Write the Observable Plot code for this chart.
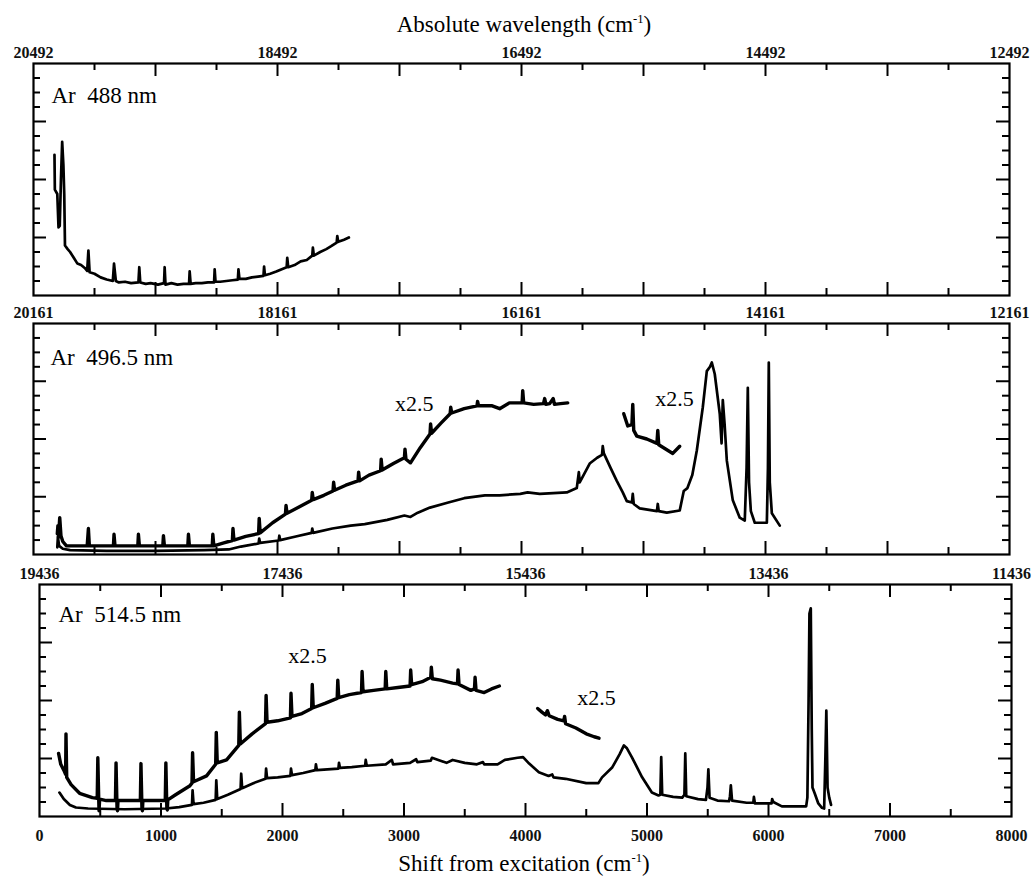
<!DOCTYPE html>
<html><head><meta charset="utf-8">
<script src="https://cdn.jsdelivr.net/npm/d3@7"></script>
<script src="https://cdn.jsdelivr.net/npm/@observablehq/plot@0.6"></script>
<style>
body{margin:0;background:#fff;}
#wrap{position:relative;width:1032px;height:878px;overflow:hidden;font-family:"Liberation Serif","Times New Roman",serif;color:#000;}
#wrap svg{position:absolute;left:0;}
.ttl{position:absolute;left:524px;transform:translateX(-50%);font-size:23px;line-height:1;white-space:nowrap;}
.ttl sup{font-size:0.55em;vertical-align:0;position:relative;top:-0.75em;}
</style></head><body>
<div id="wrap">
  <div class="ttl" style="top:13px">Absolute wavelength (cm<sup>-1</sup>)</div>
  <div class="ttl" style="top:852px">Shift from excitation (cm<sup>-1</sup>)</div>
</div>
<script>
// ---------- tick labels ----------
const topLabels488  = ["20492","18492","16492","14492","12492"];
const topLabels4965 = ["20161","18161","16161","14161","12161"];
const topLabels5145 = ["19436","17436","15436","13436","11436"];
const bottomLabels  = ["0","1000","2000","3000","4000","5000","6000","7000","8000"];
const panelNames = ["Ar\u00a0\u00a0488 nm", "Ar\u00a0\u00a0496.5 nm", "Ar\u00a0\u00a0514.5 nm"];
const scaleLabel = "x2.5";

// ---------- spectra: [shift (cm-1), intensity (arb.)] ----------
const ar488 = [[172,9.7],[175,7.3],[195,7.0],[205,4.7],[215,4.8],[225,8],[235,10.6],[245,9],[252,7],[258,3.45],[280,3.2],[300,3.0],[330,2.6],[360,2.2],[390,2.1],[420,1.9],[440,1.7],[450,3.1],[460,1.6],[500,1.5],[550,1.25],[600,1.1],[650,1.0],[660,2.2],[675,1.0],[700,0.9],[750,0.95],[800,0.85],[860,0.9],[867,1.95],[875,0.9],[920,0.8],[960,0.85],[1020,0.75],[1070,0.85],[1075,1.95],[1082,0.75],[1130,0.85],[1180,0.75],[1230,0.8],[1275,0.8],[1280,1.66],[1288,0.8],[1330,0.85],[1380,0.85],[1430,0.9],[1480,0.9],[1485,1.8],[1492,0.95],[1530,0.95],[1580,1.0],[1630,1.05],[1675,1.1],[1680,1.8],[1688,1.15],[1740,1.15],[1790,1.25],[1840,1.3],[1885,1.35],[1890,2.0],[1897,1.4],[1940,1.5],[1990,1.65],[2030,1.8],[2075,1.95],[2080,2.6],[2088,1.95],[2140,2.1],[2190,2.35],[2240,2.45],[2285,2.75],[2290,3.3],[2298,2.75],[2350,3.0],[2400,3.2],[2440,3.4],[2485,3.65],[2490,4.1],[2498,3.7],[2545,3.85],[2585,4.0]];

const ar4965 = [[195,0.5],[200,1.2],[210,0.6],[240,0.4],[300,0.3],[600,0.25],[1000,0.25],[1400,0.3],[1600,0.35],[1700,0.55],[1845,0.76],[1850,1.1],[1858,0.8],[2010,0.97],[2015,1.3],[2022,1.0],[2150,1.25],[2280,1.5],[2285,1.8],[2292,1.5],[2450,1.8],[2600,2.0],[2715,2.1],[2900,2.4],[3040,2.7],[3090,2.6],[3150,2.9],[3250,3.25],[3400,3.6],[3530,3.9],[3700,4.1],[3821,4.1],[3990,4.2],[4050,4.3],[4150,4.2],[4371,4.3],[4453,4.6],[4470,5.7],[4477,5.0],[4559,6.3],[4620,6.7],[4660,6.9],[4666,7.5],[4675,7.0],[4730,6.0],[4781,5.1],[4830,4.3],[4863,3.7],[4905,3.6],[4912,4.2],[4920,3.5],[4969,3.2],[5110,3.0],[5117,3.5],[5125,3.0],[5191,2.9],[5297,3.05],[5330,4.4],[5360,4.6],[5400,5.5],[5437,7.2],[5486,10.2],[5519,12.7],[5545,13.0],[5560,13.3],[5584,12.5],[5625,9.75],[5640,7.7],[5650,10.7],[5665,9.0],[5683,6.5],[5732,3.75],[5789,2.55],[5830,2.35],[5845,6],[5855,11.55],[5865,5],[5880,3.0],[5912,2.2],[6011,2.2],[6020,6],[6027,13.3],[6035,5],[6052,2.85],[6117,2.0]];

const ar4965x25a = [[195,1.45],[200,2.0],[205,1.2],[215,2.55],[225,1.3],[240,0.9],[270,0.6],[440,0.6],[450,1.8],[458,0.6],[655,0.6],[660,1.4],[668,0.6],[855,0.6],[860,1.4],[868,0.6],[1060,0.6],[1065,1.3],[1073,0.6],[1265,0.6],[1270,1.4],[1278,0.6],[1465,0.6],[1470,1.4],[1478,0.6],[1560,0.8],[1630,0.97],[1635,1.8],[1643,1.0],[1740,1.25],[1845,1.45],[1850,2.5],[1858,1.5],[1960,2.2],[2065,2.8],[2070,3.4],[2078,2.85],[2180,3.3],[2280,3.75],[2285,4.3],[2293,3.8],[2380,4.1],[2455,4.4],[2460,5.0],[2468,4.45],[2560,4.8],[2660,5.1],[2665,5.7],[2673,5.1],[2750,5.5],[2845,5.8],[2850,6.6],[2858,5.85],[2950,6.3],[3040,6.7],[3045,7.3],[3053,6.6],[3090,6.35],[3170,7.4],[3250,8.35],[3255,9.05],[3263,8.4],[3340,9.1],[3415,9.75],[3420,10.2],[3428,9.8],[3530,10.1],[3635,10.3],[3640,10.6],[3648,10.3],[3760,10.3],[3821,10.1],[3900,10.5],[4005,10.5],[4010,11.35],[4018,10.5],[4100,10.4],[4180,10.45],[4190,10.8],[4200,10.4],[4231,10.45],[4260,10.8],[4270,10.4],[4320,10.45],[4379,10.5]];

const ar4965x25b = [[4838,9.75],[4871,8.9],[4905,9.0],[4912,10.4],[4920,8.6],[4945,8.2],[5027,8.0],[5110,7.7],[5117,8.6],[5125,7.6],[5240,7.0],[5297,7.5]];

const ar5145 = [[164,1.65],[200,1.2],[250,0.8],[300,0.62],[400,0.55],[700,0.5],[1040,0.55],[1150,0.65],[1255,0.8],[1260,1.8],[1268,0.85],[1350,0.95],[1450,1.15],[1455,2.5],[1463,1.2],[1550,1.5],[1655,1.9],[1660,2.95],[1668,1.95],[1760,2.3],[1860,2.6],[1865,3.3],[1873,2.65],[1960,2.7],[2065,2.8],[2070,3.3],[2078,2.85],[2170,3.0],[2270,3.2],[2275,3.6],[2283,3.2],[2370,3.25],[2460,3.3],[2465,3.7],[2473,3.35],[2570,3.4],[2680,3.5],[2685,3.9],[2693,3.5],[2850,3.6],[2900,3.9],[2910,3.6],[3050,3.7],[3100,3.95],[3110,3.75],[3220,3.85],[3230,4.05],[3300,3.85],[3350,3.7],[3400,3.9],[3500,3.7],[3600,3.6],[3650,3.75],[3660,3.6],[3770,3.6],[3830,3.9],[3935,4.05],[3980,4.1],[4030,3.65],[4110,3.05],[4190,2.8],[4220,2.9],[4230,2.7],[4330,2.6],[4500,2.3],[4600,2.3],[4630,2.7],[4715,3.4],[4775,4.3],[4810,4.9],[4835,4.7],[4875,4.1],[4960,2.7],[5040,1.65],[5095,1.45],[5110,1.5],[5117,4.1],[5125,1.5],[5215,1.35],[5290,1.3],[5308,1.5],[5315,4.35],[5323,1.4],[5420,1.2],[5485,1.15],[5498,2],[5505,3.25],[5515,1.3],[5580,1.1],[5675,1.05],[5683,1.4],[5690,2.15],[5700,1.1],[5820,0.95],[5875,0.95],[5880,1.35],[5888,0.9],[5970,0.9],[6025,0.9],[6030,1.2],[6040,1.0],[6110,0.7],[6310,0.7],[6320,1.3],[6330,8],[6337,14.0],[6348,14.35],[6356,6],[6362,2.0],[6380,1.6],[6410,0.9],[6440,0.6],[6458,0.55],[6468,4],[6476,7.3],[6486,2],[6500,1.3],[6515,0.8]];

const ar5145x25a = [[157,4.35],[175,3.6],[200,3.2],[215,2.9],[218,5.7],[224,2.7],[260,2.2],[330,1.6],[435,1.3],[475,1.25],[480,4.05],[488,1.0],[490,0.4],[495,1.2],[550,1.1],[625,1.1],[630,3.7],[638,0.6],[642,0.4],[646,1.1],[830,1.1],[835,3.65],[843,0.6],[847,0.4],[851,1.1],[1035,1.1],[1040,3.7],[1048,0.6],[1052,0.45],[1056,1.15],[1120,1.5],[1235,2.1],[1255,2.3],[1260,4.4],[1268,2.4],[1375,2.8],[1450,3.6],[1455,5.8],[1463,3.7],[1540,3.9],[1640,4.9],[1645,7.2],[1653,5.0],[1750,5.7],[1860,6.4],[1865,8.35],[1873,6.5],[1960,6.6],[2065,6.8],[2070,8.5],[2078,6.9],[2160,7.1],[2240,7.45],[2245,9.1],[2253,7.5],[2350,7.8],[2450,8.15],[2455,9.4],[2463,8.2],[2550,8.4],[2650,8.55],[2655,10.0],[2663,8.6],[2750,8.7],[2845,8.8],[2850,10.0],[2858,8.8],[2950,8.9],[3050,9.0],[3055,10.1],[3063,9.1],[3150,9.3],[3220,9.6],[3225,10.3],[3233,9.5],[3300,9.4],[3400,9.2],[3440,9.15],[3445,10.1],[3453,9.1],[3550,8.7],[3580,8.8],[3585,9.6],[3593,8.7],[3660,8.55],[3720,8.8],[3785,9.0]];

const ar5145x25b = [[4100,7.45],[4135,7.2],[4165,7.0],[4180,7.3],[4195,6.95],[4265,6.7],[4315,6.6],[4322,6.9],[4330,6.4],[4415,6.1],[4500,5.7],[4565,5.5],[4605,5.4]];

// annotation anchors (data units)
const x25Pos4965 = [[3120,10.45],[5255,10.8]];
const x25Pos5145 = [[2206,11.1],[4584,8.2]];

// ---------- tick positions ----------
const xMajor = [1000,2000,3000,4000,5000,6000,7000];
const xMinor = [500,1500,2500,3500,4500,5500,6500,7500];
const xLabelTicks = [0,2000,4000,6000,8000];
const xBottomTicks = [0,1000,2000,3000,4000,5000,6000,7000,8000];
const yMajor = [4,8,12];
const yMinor = [1,2,3,5,6,7,9,10,11,13,14,15];

const FONT = "Liberation Serif, Times New Roman, serif";
const W = 1032;

function panel({top, mt, mb, ml, mr, frameH, lines, scaled, topLabels, name, nameDx, nameDy, x25, bottom}) {
  const fw = W - ml - mr;
  const marks = [];
  // inward ticks on all four sides
  marks.push(Plot.tickX(xMajor, {x: d => d, insetTop: frameH - 13, strokeWidth: 2}));
  marks.push(Plot.tickX(xMajor, {x: d => d, insetBottom: frameH - 13, strokeWidth: 2}));
  marks.push(Plot.tickX(xMinor, {x: d => d, insetTop: frameH - 7, strokeWidth: 2}));
  marks.push(Plot.tickX(xMinor, {x: d => d, insetBottom: frameH - 7, strokeWidth: 2}));
  marks.push(Plot.tickY(yMajor, {y: d => d, insetRight: fw - 13, strokeWidth: 2}));
  marks.push(Plot.tickY(yMajor, {y: d => d, insetLeft: fw - 13, strokeWidth: 2}));
  marks.push(Plot.tickY(yMinor, {y: d => d, insetRight: fw - 7, strokeWidth: 2}));
  marks.push(Plot.tickY(yMinor, {y: d => d, insetLeft: fw - 7, strokeWidth: 2}));
  marks.push(Plot.frame({stroke: "#000", strokeWidth: 2.2}));
  for (const s of lines) {
    marks.push(Plot.line(s, {x: d => d[0], y: d => d[1], stroke: "#000", strokeWidth: 2.7, strokeLinejoin: "round"}));
  }
  for (const s of (scaled || [])) {
    marks.push(Plot.line(s, {x: d => d[0], y: d => d[1], stroke: "#000", strokeWidth: 3.4, strokeLinejoin: "round"}));
  }
  // top tick labels (absolute wavenumber)
  marks.push(Plot.text(xLabelTicks, {x: d => d, frameAnchor: "top", dy: -11, lineAnchor: "middle",
    text: (d, i) => topLabels[i], fontSize: 16, fontWeight: "bold", fontFamily: FONT, fill: "#111"}));
  if (bottom) {
    marks.push(Plot.text(xBottomTicks, {x: d => d, frameAnchor: "bottom", dy: 19, lineAnchor: "middle",
      text: (d, i) => bottomLabels[i], fontSize: 16, fontWeight: "bold", fontFamily: FONT, fill: "#111"}));
  }
  marks.push(Plot.text([name], {text: d => d, frameAnchor: "top-left", dx: nameDx, dy: nameDy,
    textAnchor: "start", lineAnchor: "middle", fontSize: 23, fontFamily: FONT, fill: "#000"}));
  if (x25) {
    marks.push(Plot.text(x25, {x: d => d[0], y: d => d[1], text: () => scaleLabel,
      textAnchor: "middle", lineAnchor: "middle", fontSize: 22, fontFamily: FONT, fill: "#000"}));
  }
  const svg = Plot.plot({
    width: W, height: mt + frameH + mb,
    marginTop: mt, marginBottom: mb, marginLeft: ml, marginRight: mr,
    x: {domain: [0, 8000], axis: null},
    y: {domain: [0, 16], axis: null},
    style: {background: "transparent", overflow: "visible"},
    marks
  });
  svg.style.top = top + "px";
  return svg;
}

const wrap = document.getElementById("wrap");
wrap.appendChild(panel({top: 36, mt: 27, mb: 3, ml: 33, mr: 23, frameH: 232,
  lines: [ar488], topLabels: topLabels488, name: panelNames[0], nameDx: 18, nameDy: 32}));
wrap.appendChild(panel({top: 299, mt: 24, mb: 3, ml: 33, mr: 23, frameH: 231,
  lines: [ar4965], scaled: [ar4965x25a, ar4965x25b], topLabels: topLabels4965, name: panelNames[1], nameDx: 17, nameDy: 34, x25: x25Pos4965}));
wrap.appendChild(panel({top: 558, mt: 26, mb: 32, ml: 39, mr: 21, frameH: 232,
  lines: [ar5145], scaled: [ar5145x25a, ar5145x25b], topLabels: topLabels5145, name: panelNames[2], nameDx: 19, nameDy: 30, x25: x25Pos5145, bottom: true}));
</script>
</body></html>
